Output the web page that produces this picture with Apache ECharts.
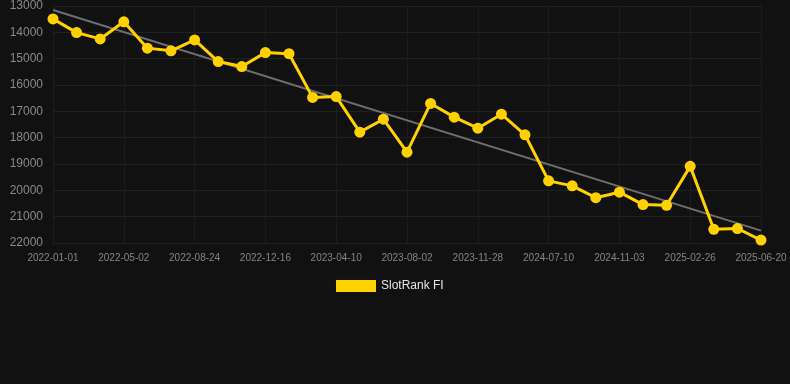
<!DOCTYPE html>
<html><head><meta charset="utf-8">
<script src="https://cdn.jsdelivr.net/npm/echarts@6/dist/echarts.min.js"></script>
<style>html,body{margin:0;padding:0;background:#111111;}#c{width:790px;height:384px;}</style>
</head><body><div id="c"></div>
<script>
const categories = ['2022-01-01','2022-02-10','2022-03-22','2022-05-02','2022-06-09','2022-07-17','2022-08-24','2022-10-01','2022-11-08','2022-12-16','2023-01-23','2023-03-02','2023-04-10','2023-05-18','2023-06-25','2023-08-02','2023-09-10','2023-10-19','2023-11-28','2024-03-10','2024-05-25','2024-07-10','2024-08-18','2024-09-26','2024-11-03','2024-12-11','2025-01-18','2025-02-26','2025-04-05','2025-05-13','2025-06-20'];
const rankValues = [13490,14010,14250,13600,14600,14700,14290,15110,15300,14770,14810,16470,16440,17790,17300,18550,16700,17220,17640,17110,17890,19640,19830,20280,20070,20540,20570,19090,21480,21450,21890];
const trendStart = 13150;
const trendEnd = 21530;
const yMin = 13000, yMax = 22000, yStep = 1000;
const seriesName = 'SlotRank FI';

const trendData = categories.map((c,i)=> i===0 ? trendStart : (i===categories.length-1 ? trendEnd : null));

const chart = echarts.init(document.getElementById('c'), null, {renderer:'canvas'});
chart.setOption({
  backgroundColor:'#111111',
  animation:false,
  grid:{left:53,right:29,top:6,bottom:141},
  legend:{
    data:[{name:seriesName}],
    bottom:87, left:331,
    icon:'rect', itemWidth:40, itemHeight:12, itemGap:6,
    textStyle:{color:'#e6e6e6',fontSize:12,fontFamily:'Arial, Liberation Sans, sans-serif'}
  },
  xAxis:{
    type:'category', data:categories, boundaryGap:false,
    axisLine:{show:false}, axisTick:{show:false},
    axisLabel:{color:'#858585',fontSize:10,interval:2,margin:10,fontFamily:'Arial, Liberation Sans, sans-serif'},
    splitLine:{show:true,interval:2,lineStyle:{color:'#1c1c1c',width:1}}
  },
  yAxis:{
    type:'value', inverse:true, min:yMin, max:yMax, interval:yStep,
    axisLine:{show:false}, axisTick:{show:false},
    axisLabel:{color:'#8a8a8a',fontSize:12,margin:10,formatter:(v)=>String(v),fontFamily:'Arial, Liberation Sans, sans-serif'},
    splitLine:{lineStyle:{color:'#202020',width:1}}
  },
  series:[
    {
      name:'trend', type:'line', data:trendData, connectNulls:true,
      symbol:'none', lineStyle:{color:'#6e6e6e',width:2}, z:1, silent:true
    },
    {
      name:seriesName, type:'line', data:rankValues,
      symbol:'circle', symbolSize:11,
      itemStyle:{color:'#ffd100'},
      lineStyle:{color:'#ffd100',width:3}, z:2
    }
  ]
});
</script>
</body></html>
